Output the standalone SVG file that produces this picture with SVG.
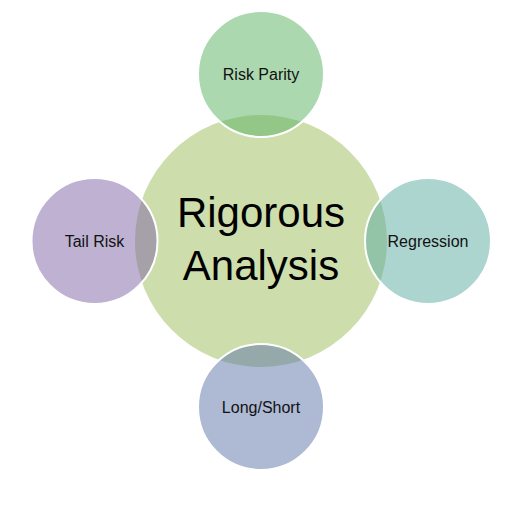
<svg xmlns="http://www.w3.org/2000/svg" width="532" height="507" viewBox="0 0 532 507">
<style>
.sat{stroke:#fff;stroke-width:2;fill-opacity:0.5}
.lbl{font-family:"Liberation Sans",Arial,sans-serif;font-size:16px;fill:#111;text-anchor:middle}
.big{font-family:"Liberation Sans",Arial,sans-serif;font-size:42px;fill:#000;text-anchor:middle}
</style>
<rect width="532" height="507" fill="#fff"/>
<g id="center">
<circle cx="261" cy="241" r="126" fill="#CDDDAC"/>
<text class="big" x="261" y="227">Rigorous</text>
<text class="big" x="261" y="280">Analysis</text>
</g>
<g id="top">
<circle class="sat" cx="261" cy="74" r="63" fill="#59B161"/>
<text class="lbl" x="261" y="80">Risk Parity</text>
</g>
<g id="right">
<circle class="sat" cx="428" cy="241" r="63" fill="#5BABA1"/>
<text class="lbl" x="428" y="247">Regression</text>
</g>
<g id="bottom">
<circle class="sat" cx="261" cy="407" r="63" fill="#5D73A7"/>
<text class="lbl" x="261" y="413">Long/Short</text>
</g>
<g id="left">
<circle class="sat" cx="94.5" cy="241" r="63" fill="#7F63A3"/>
<text class="lbl" x="94.5" y="247">Tail Risk</text>
</g>
<g id="connectors"></g>
</svg>
